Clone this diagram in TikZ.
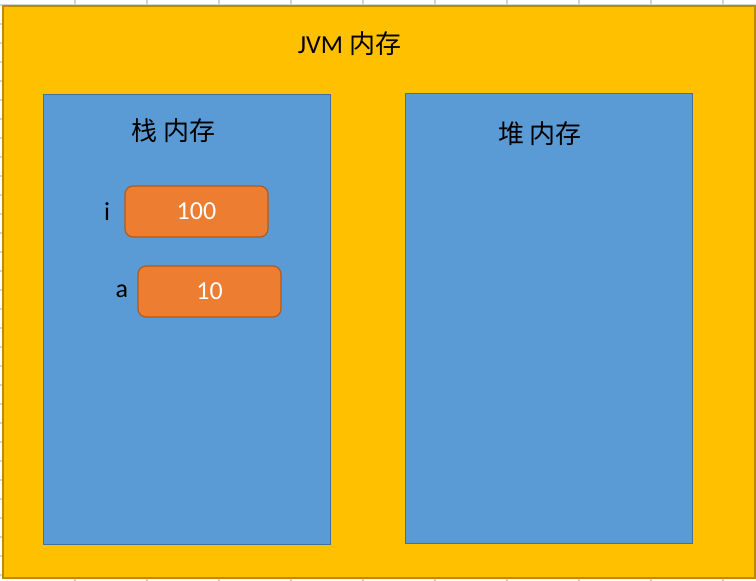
\documentclass[tikz,border=0pt]{standalone}
\usepackage{fontspec}
\setmainfont{Carlito}
\newfontfamily\cjk{Noto Sans CJK SC}
\usetikzlibrary{positioning}

\definecolor{jvmfill}{HTML}{FFC000}
\definecolor{jvmline}{HTML}{BC8C00}
\definecolor{memfill}{HTML}{5B9BD5}
\definecolor{memline}{HTML}{41719C}
\definecolor{valfill}{HTML}{ED7D31}
\definecolor{valline}{HTML}{AE5A21}
\definecolor{gridgrey}{HTML}{D4D4D4}
\newlength{\px}
\setlength{\px}{0.75pt}

\begin{document}
\begin{tikzpicture}
    [ x = 0.75pt, y = -0.75pt
    , font = \fontsize{19.5}{23}\selectfont
    , jvm/.style =
      { draw = jvmline, fill = jvmfill, line width = 1pt }
    , memory/.style =
      { draw = memline, fill = memfill, line width = 0.9pt, anchor = north west
      , minimum width = 287\px, minimum height = 450\px, inner sep = 0pt }
    , value/.style =
      { draw = valline, fill = valfill, line width = 0.9pt, rounded corners = 6pt
      , minimum width = 143\px, minimum height = 51\px, text = white, inner sep = 0pt }
    , varname/.style =
      { inner sep = 0pt }
    , title/.style =
      { inner sep = 0pt }
    ]
    \useasboundingbox (0,0) rectangle (756,581);
    \fill [white] (0,0) rectangle (756,581);

    % sheet grid behind the picture
    \foreach \gx in {75,147,...,723}
      \draw [gridgrey, line width = 0.8pt] (\gx,0) -- (\gx,581);
    \foreach \gy in {5,24,...,575}
      \draw [gridgrey, line width = 0.8pt] (0,\gy) -- (756,\gy);

    \draw [jvm] (3,6) rectangle (755,578);
    \node [title] (jvmtitle) at (349.5,44) {JVM {\cjk 内存}};

    \node [memory] (stack) at (43,94) {};
    \node [memory] (heap) at (405,93) {};
    \node [title] (stacktitle) at (173.5,131) {\cjk 栈 内存};
    \node [title] (heaptitle) at (540,134) {\cjk 堆 内存};

    \node [value] (vali) at (196.5,211.5) {100};
    \node [value] (vala) at (209.5,291.5) {10};
    \node [varname] (i) [left=14\px of vali] {i};
    \node [varname] (a) [left=9\px of vala] {a};
\end{tikzpicture}
\end{document}
